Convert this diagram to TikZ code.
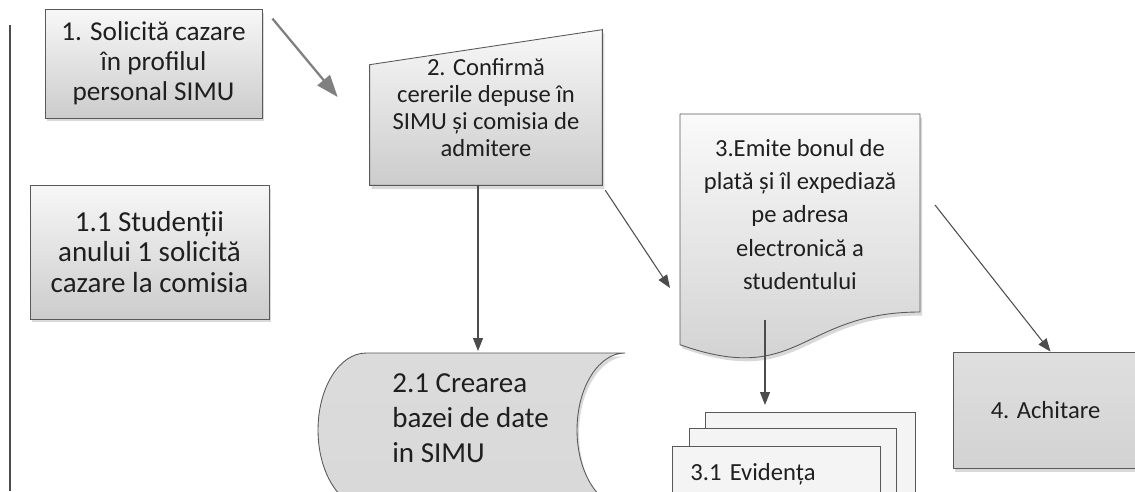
\documentclass[tikz,border=0pt]{standalone}
\usepackage{fontspec}
\setmainfont{Carlito}
\usetikzlibrary{positioning, calc, shadows, backgrounds, arrows.meta}

\begin{document}
\begin{tikzpicture}[
		x=0.02cm, y=-0.02cm,
		BoxCfg/.style={
			draw=gray!70!black, line width=0.5pt,
			top color=gray!6, bottom color=gray!40,
			drop shadow={shadow xshift=0.04cm, shadow yshift=-0.07cm, opacity=0.3},
			align=center, text=black!88
		},
		TxtCfg/.style={align=center, text=black!88, font=\fontsize{14}{19}\selectfont},
		PageCfg/.style={
			draw=gray!70!black, line width=0.5pt, fill=gray!9,
			anchor=north west, minimum height=3cm
		},
		ArrowCfg/.style={draw=gray!60!black, line width=0.6pt, -{Triangle[length=0.26cm, width=0.2cm]}}
		]
		
		\useasboundingbox (0,0) rectangle (1135,491);
		\draw[gray!60!black, line width=1pt] (10,25) -- (10,491);
		
		\path
		(153.5,63.5) node [BoxCfg, minimum width=4.34cm, minimum height=2.18cm,
			font=\fontsize{15.5}{17}\selectfont] (B1) {1. Solicită cazare\\în profilul\\personal SIMU}
		(149.5,252) node [BoxCfg, minimum width=4.78cm, minimum height=2.68cm,
			font=\fontsize{16.5}{17.6}\selectfont] (B11) {1.1 Studenții\\anului 1 solicită\\cazare la comisia}
		(486,107.5) node [TxtCfg, minimum width=4.64cm, minimum height=3.1cm,
			font=\fontsize{14}{15.3}\selectfont] (B2) {2. Confirmă\\cererile depuse în\\SIMU și comisia de\\admitere}
		(800,214.5) node [TxtCfg] (B3) {3.Emite bonul de\\plată și îl expediază\\pe adresa\\electronică a\\studentului}
		(392,418) node [TxtCfg, align=left, anchor=west, inner sep=0pt,
			font=\fontsize{16.5}{19.8}\selectfont] (B21) {2.1 Crearea\\bazei de date\\in SIMU}
		(1045.5,410) node [BoxCfg, minimum width=3.7cm, minimum height=2.32cm,
			top color=gray!25, bottom color=gray!35, font=\fontsize{14}{17}\selectfont] (B4) {4. Achitare}
		(705,412) node [PageCfg, minimum width=4.2cm] (B31c) {}
		(689,428) node [PageCfg, minimum width=4.14cm] (B31b) {}
		(672,446) node [PageCfg, minimum width=4.16cm, inner xsep=0.36cm, inner ysep=0.24cm,
			text width=3.44cm, align=left, text height=10pt, text depth=2cm, text=black!88,
			font=\fontsize{14}{17}\selectfont] (B31) {3.1 Evidența};
		
		\begin{scope}[on background layer]
			\path[BoxCfg] (B2.south west) -- ($(B2.north west)+(0,35)$) -- (B2.north east) -- (B2.south east) -- cycle;
			\path[BoxCfg, top color=gray!4, bottom color=gray!38]
			($(B3)+(-120,-100.5)$) -- ($(B3)+(120,-100.5)$) -- ($(B3)+(120,97.5)$)
			.. controls ($(B3)+(0,97.5)$) and ($(B3)+(0,172.9)$) .. ($(B3)+(-120,130.2)$) -- cycle;
			\path[BoxCfg, top color=gray!28, bottom color=gray!30]
			($(B21.west)+(-26,-65)$) -- ($(B21.west)+(233,-65)$)
			arc[start angle=90, end angle=270, x radius=0.96cm, y radius=1.54cm]
			-- ($(B21.west)+(-26,89)$)
			arc[start angle=270, end angle=90, x radius=0.96cm, y radius=1.54cm] -- cycle;
		\end{scope}
		
		\coordinate (T21) at ($(B21.west)+(86,-67)$);
		\coordinate (S3) at ($(B3)+(-35,105)$);
		
		\draw[ArrowCfg, draw=gray, line width=1.3pt, -{Triangle[length=0.44cm, width=0.32cm]}]
		([shift={(0.2cm,-0.2cm)}]B1.north east) -- ([shift={(-0.64cm,0.21cm)}]B2.west);
		\draw[ArrowCfg] (T21 |- B2.south) -- (T21);
		\draw[ArrowCfg] ([shift={(0.06cm,-0.1cm)}]B2.south east) -- ($(B3)+(-130,73.5)$);
		\draw[ArrowCfg] ($(B3)+(135,-9.5)$) -- ([xshift=0.1cm]B4.north);
		\draw[ArrowCfg, shorten >=0.14cm] (S3) -- (S3 |- B31c.north);
		\end{tikzpicture}
\end{document}
